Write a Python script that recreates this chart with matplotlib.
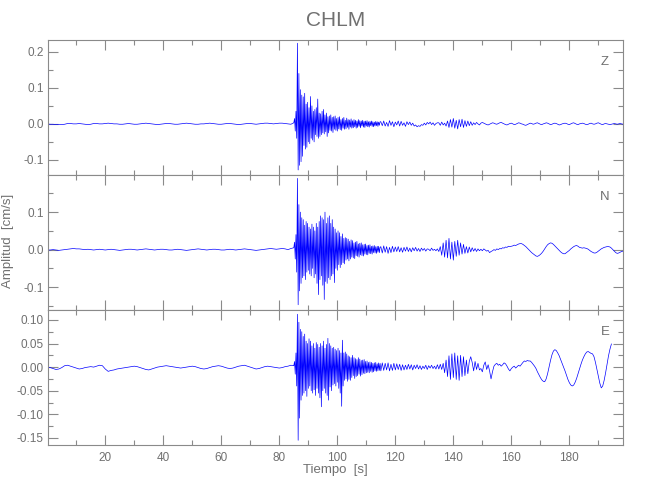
import numpy as np
import matplotlib
matplotlib.use("Agg")
import matplotlib.pyplot as plt
from matplotlib.ticker import MultipleLocator, FormatStrFormatter

# amplitudes en milesimas de cm/s, leidas del sismograma
# tramo previo: 1 muestra/s desde t=0, tramo fuerte: 4 muestras/s desde t=85,
# coda: 2 muestras/s desde t=115
z_pre = [0, -1, -1, -2, -2, -2, -1, 1, 1, 0,
         0, 1, 0, -1, -2, -1, 1, 1, 0, 0,
         1, 2, 1, 0, 0, -1, -1, 0, 1, 0,
         -1, -1, 0, 1, 2, 1, 0, -1, -2, -1,
         0, 1, 1, 0, -1, -1, 0, 1, 2, 1,
         0, -1, -1, 0, 0, 1, 2, 1, 0, -1,
         -1, 0, 1, 1, 0, -1, -2, -1, 0, 1,
         1, 0, -1, 0, 1, 2, 2, 1, 0, 1,
         2, 2, 1, 0, -1]
z_fuerte = [3, 15, -20, 35, -40, 224, -128, 140, -115, 95,
            -105, 80, -90, 75, -60, 85, -70, 55, -65, 60,
            -50, 45, -55, 76, -40, 50, -45, 35, -50, 40,
            -30, 45, -35, 69, -40, 30, -35, 28, -30, 35,
            -25, 40, -28, 25, -22, 30, -35, 20, -25, 22,
            -18, 25, -20, 18, -24, 20, -15, 22, -18, 15,
            -20, 18, -14, 20, -16, 12, -18, 15, -12, 18,
            -15, 10, -14, 16, -10, 12, -15, 11, -9, 14,
            -12, 9, -11, 12, -8, 10, -12, 8, -10, 12,
            -7, 9, -11, 8, -6, 10, -9, 7, -10, 8,
            -6, 9, -8, 6, -9, 7, -5, 8, -7, 6,
            -8, 5, -6, 7, -5, 6, -7, 5, -4, 6]
z_coda = [6, -5, 8, -6, 4, -7, 9, -4, 6, -8,
          5, -3, 8, -6, 7, -4, 3, -7, 6, -2,
          5, -4, 2, -6, -3, -8, -5, -7, -2, -4,
          2, -3, 4, 0, 5, -2, 3, -4, 1, 3,
          3, -4, 5, -3, 2, -6, 8, -10, 12, -9,
          15, -12, 10, -14, 12, -8, 13, -10, 9, -7,
          8, -5, 6, -4, 3, -2, 4, 0, -3, 2,
          4, 2, 0, -2, -3, -1, 1, 3, 2, 0,
          -1, 1, 3, 4, 2, 0, -2, -3, -1, 1,
          2, 0, -2, -1, 1, 3, 2, 0, -1, -3,
          -4, -2, 0, 2, 1, -1, 0, 2, 3, 1,
          -1, -2, 0, 1, 3, 2, 0, -2, -1, 1,
          2, 1, -1, -3, -2, 0, 1, 2, 1, -1,
          -2, 0, 2, 3, 1, -1, -2, 0, 1, 2,
          1, -1, -2, -1, 1, 2, 0, -1, 0, 2,
          3, 1, -1, -2, 0, 1, 0, -1, -2, -1,
          0, 1, 0, -1, 0, 1, 0, -1]

n_pre = [-1, -1, 0, -1, -2, -1, 0, 1, 2, 3,
         2, 2, 1, 0, 1, 0, -1, 0, 1, 0,
         -1, 0, 1, 0, -1, -2, -1, 0, 1, 1,
         0, -1, 0, 1, 2, 1, 0, -1, 0, 1,
         1, 0, -1, -1, 0, 1, 0, -1, -2, -1,
         0, 1, 2, 1, 0, -1, 0, 1, 1, 0,
         -1, -1, 0, 1, 0, -1, 0, 1, 2, 1,
         0, -1, -2, -1, 0, 1, 2, 3, 2, 1,
         2, 3, 2, 0, 3]
n_fuerte = [5, 20, -25, 40, -60, 190, -147, 120, -110, 100,
            -90, 85, -75, 80, -70, 65, -80, 75, -60, 70,
            -55, 60, -65, 55, -70, 68, -50, 60, -75, 50,
            -65, 70, -90, 60, -120, 75, -80, 90, -70, 85,
            -95, 80, -133, 100, -85, 70, -90, 85, -75, 90,
            -80, 70, -70, 80, -65, 60, -88, 55, -50, 45,
            -55, 50, -40, 45, -48, 35, -40, 42, -35, 30,
            -38, 32, -28, 30, -25, 28, -30, 22, -25, 26,
            -20, 24, -22, 18, -24, 20, -16, 22, -18, 15,
            -20, 17, -14, 18, -16, 13, -17, 14, -12, 15,
            -13, 11, -14, 12, -10, 13, -11, 9, -12, 10,
            -8, 11, -9, 8, -10, 9, -7, 9, -8, 6]
n_coda = [8, -9, 10, -7, 8, -10, 6, -8, 9, -6,
          7, -5, 8, -6, 5, -7, 6, -4, 7, -5,
          4, -6, 5, -3, 6, -4, 3, -5, 4, -2,
          3, -4, 2, 1, -3, 4, -2, 1, -3, 2,
          -5, 8, -15, 18, -20, 25, -22, 30, -25, 20,
          -28, 22, -18, 25, -15, 18, -12, 14, -10, 8,
          -9, 7, -6, 5, -4, 3, -5, 2, -3, 1,
          -3, 2, -1, -4, -2, -8, -5, -3, 0, -2,
          2, 0, 3, 2, 5, 4, 7, 6, 9, 8,
          9, 10, 12, 11, 13, 15, 16, 16, 14, 11,
          8, 4, 0, -4, -8, -11, -14, -17, -18, -16,
          -13, -9, -4, 2, 8, 13, 16, 18, 17, 14,
          10, 6, 2, -2, -6, -9, -11, -11, -8, -5,
          -2, 2, 5, 8, 10, 11, 9, 6, 5, 4,
          5, 4, 3, 1, -2, -5, -7, -9, -9, -7,
          -4, -1, 2, 4, 6, 7, 8, 8, 7, 4,
          0, -4, -8, -10, -9, -7, -5, -4]

e_pre = [0, -1, -3, -5, -4, -1, 3, 4, 2, 0,
         -2, -4, -3, -1, 0, 1, 0, 2, 4, 3,
         -4, -9, -7, -6, -4, -3, -2, -1, 0, 1,
         2, 1, -1, -3, -5, -6, -4, -2, 0, 1,
         2, 3, 2, 1, 0, -1, -2, -1, 0, 1,
         2, 1, -1, -3, -4, -3, -1, 1, 2, 3,
         2, 0, -2, -3, -2, 0, 2, 3, 4, 2,
         0, -2, -4, -3, -1, 1, 2, 1, 0, -1,
         -2, -1, 1, 2, 4]
e_fuerte = [3, 12, -15, 30, -40, 112, -155, 95, -108, 80,
            -70, 75, -60, 65, -55, 70, -50, 55, -62, 50,
            -45, 60, -40, 55, -50, 45, -55, 50, -48, 40,
            -60, 52, -45, 48, -55, 42, -65, 50, -84, 45,
            -50, 55, -45, 40, -55, 48, -60, 61, -70, 50,
            -42, 45, -50, 40, -38, 42, -35, 38, -40, 35,
            -32, 40, -45, 35, -55, 30, -83, 57, -40, 30,
            -28, 32, -25, 28, -30, 24, -26, 22, -28, 20,
            -22, 25, -18, 20, -24, 18, -20, 16, -18, 20,
            -15, 17, -19, 14, -16, 15, -13, 16, -14, 12,
            -12, 13, -11, 10, -12, 11, -9, 10, -11, 8,
            -10, 9, -8, 10, -9, 7, -8, 9, -7, 8]
e_coda = [-8, 9, -7, 8, -6, 9, -8, 6, -7, 8,
          -6, 7, -5, 6, -7, 5, -6, 4, -5, 6,
          -4, 5, -6, 4, -3, 5, -4, 3, -5, 2,
          -3, 4, -5, 3, -2, 4, -3, 2, -4, 5,
          -4, 6, -5, 8, -12, 15, -20, 24, -26, 28,
          -22, 30, -26, 24, -28, 25, -20, 22, -18, 15,
          -14, 12, 22, 10, -8, 12, -5, 8, -6, -3,
          -10, 4, 11, -5, 5, -8, -25, -10, 2, 6,
          8, 4, 6, 2, 5, 9, 7, 2, -4, -8,
          -3, 0, 2, -2, 1, 4, 2, 6, 10, 13,
          12, 14, 13, 13, 10, 6, 2, -3, -10, -16,
          -22, -27, -30, -31, -25, -14, 0, 14, 26, 34,
          37, 35, 30, 24, 16, 8, 0, -8, -17, -26,
          -33, -38, -40, -38, -32, -24, -14, -4, 6, 15,
          22, 28, 32, 33, 31, 29, 28, 22, 10, -5,
          -20, -34, -44, -40, -28, -12, 6, 24, 38, 49]

componentes = ["Z", "N", "E"]
estacion = "CHLM"


def serie(pre, fuerte, coda):
    t = np.concatenate([
        0.0 + 1.0 * np.arange(len(pre)),
        85.0 + 0.25 * np.arange(len(fuerte)),
        115.0 + 0.5 * np.arange(len(coda)),
    ])
    v = np.concatenate([pre, fuerte, coda]) * 0.001
    return t, v


trazas = [serie(z_pre, z_fuerte, z_coda),
          serie(n_pre, n_fuerte, n_coda),
          serie(e_pre, e_fuerte, e_coda)]

plt.rcParams["font.family"] = ["Liberation Sans", "DejaVu Sans"]
gris = "#8a8a8a"
texto = "#707070"

fig = plt.figure(figsize=(6.5, 5.0), dpi=100)
alto = 135 / 500
izq = 47.7 / 650
ancho = 575.6 / 650
limites = [(-0.142, 0.233), (-0.161, 0.199), (-0.165, 0.121)]
paso = [(0.1, 0.05, "%.1f"), (0.1, 0.05, "%.1f"), (0.05, 0.025, "%.2f")]

for i in range(3):
    ax = fig.add_axes([izq, 1 - (40 + 135 * (i + 1)) / 500, ancho, alto])
    t, v = trazas[i]
    ax.plot(t, v, color="#0000ff", lw=0.5)
    ax.set_xlim(0.15, 198.6)
    ax.set_ylim(*limites[i])
    ax.xaxis.set_major_locator(MultipleLocator(20))
    ax.xaxis.set_minor_locator(MultipleLocator(10))
    ax.yaxis.set_major_locator(MultipleLocator(paso[i][0]))
    ax.yaxis.set_minor_locator(MultipleLocator(paso[i][1]))
    ax.yaxis.set_major_formatter(FormatStrFormatter(paso[i][2]))
    ax.tick_params(which="both", direction="in", top=True, right=True,
                   color=gris, labelcolor=texto, labelsize=8.5, width=0.8)
    ax.tick_params(which="major", length=7.2)
    ax.tick_params(which="minor", length=3.6)
    ax.tick_params(axis="y", pad=3)
    ax.tick_params(axis="x", pad=5)
    for s in ax.spines.values():
        s.set_color(gris)
        s.set_linewidth(0.8)
    if i < 2:
        ax.tick_params(labelbottom=False)
    ax.text(0.968, 0.837, componentes[i], transform=ax.transAxes,
            ha="center", va="center", fontsize=9.5, color=texto)

fig.text(izq + ancho / 2, 1 - 20 / 500, estacion, ha="center", va="center",
         fontsize=15, color=texto)
fig.text(8 / 650, 1 - 241 / 500, "Amplitud  [cm/s]", rotation=90,
         ha="center", va="center", fontsize=9.5, color=texto)
fig.text(izq + ancho / 2, 1 - 470 / 500, "Tiempo  [s]", ha="center",
         va="center", fontsize=9.5, color=texto)

fig.savefig("out.png", dpi=100)
